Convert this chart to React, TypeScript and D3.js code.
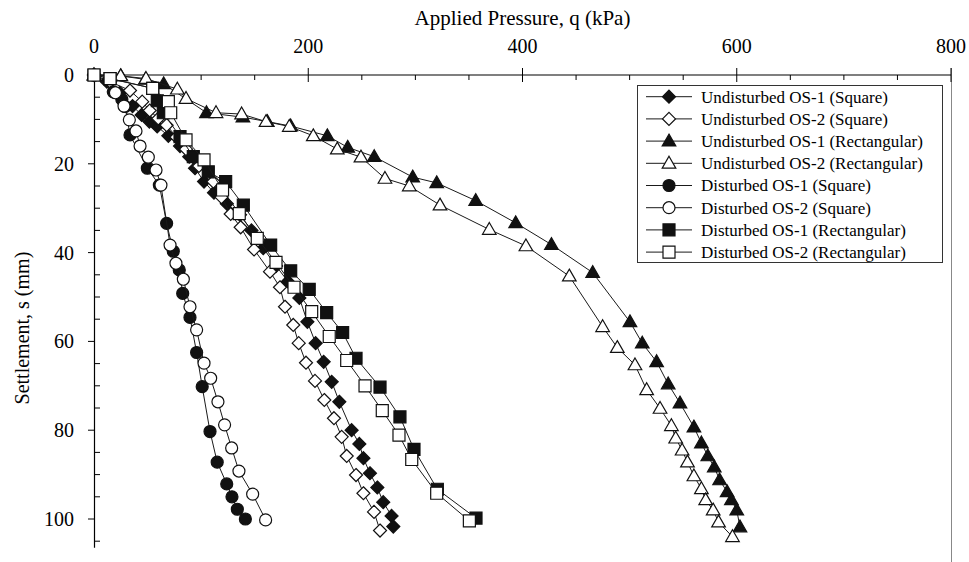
import React, { useEffect, useRef } from 'react';
import * as d3 from 'd3';

const X_TICKS = [0, 200, 400, 600, 800];
const Y_TICKS = [0, 20, 40, 60, 80, 100];

const LABELS = [
  'Undisturbed OS-1 (Square)',
  'Undisturbed OS-2 (Square)',
  'Undisturbed OS-1 (Rectangular)',
  'Undisturbed OS-2 (Rectangular)',
  'Disturbed OS-1 (Square)',
  'Disturbed OS-2 (Square)',
  'Disturbed OS-1 (Rectangular)',
  'Disturbed OS-2 (Rectangular)',
];

// Undisturbed OS-1 (Square)
const qU1Sq = [0, 12, 24, 36, 44.5, 51.7, 59, 69.4, 80.3, 88.9, 94.3, 102.7, 112, 124, 136.3, 147, 158, 170, 181, 191.7, 199.2, 206.9, 214.4, 221.9, 229, 240.5, 247.7, 251.5, 257.6, 264.5, 270, 277.8, 279.4];
const sU1Sq = [0, 1.5, 4, 7, 9, 10.5, 11.6, 13.7, 16, 18.4, 21, 24, 26.5, 29, 31.5, 35, 39, 43, 46.5, 50.2, 55.6, 60.4, 64.6, 69.1, 73.6, 80, 83.1, 86.3, 89.7, 92.9, 96.2, 99.3, 101.7];

// Undisturbed OS-2 (Square)
const qU2Sq = [0, 15, 33.6, 45, 52, 60, 67.8, 77, 85.9, 98, 111.4, 119, 127.6, 136.9, 149.4, 164.3, 173.6, 178.3, 186, 191.1, 197.9, 206.3, 215, 224, 231.2, 235.9, 244.6, 251.5, 261.4, 267];
const sU2Sq = [0, 1.5, 3.5, 6, 8, 9.8, 11.3, 14, 16.7, 20.5, 24, 27.5, 31.3, 34.3, 39.3, 44.3, 47.8, 52.2, 56.3, 60.4, 64.8, 68.9, 73.2, 77.3, 81.5, 85.8, 90.1, 94.2, 98.4, 102.6];

// Undisturbed OS-1 (Rectangular)
const qU1Re = [0, 25, 48, 65, 105, 139, 161.8, 183.6, 217.8, 236.8, 261.6, 297.5, 319.9, 356.3, 393.6, 427, 465.5, 500.3, 511.8, 525.2, 536, 547, 560, 567, 573, 579, 584, 591, 595, 600, 603];
const sU1Re = [0, 0.2, 1, 2, 8.5, 9.5, 10.5, 11.5, 13.7, 16.3, 18.4, 23, 24.3, 28.3, 33.3, 38.2, 44.5, 55.6, 60.4, 64.6, 69.6, 73.9, 79.3, 82.9, 85.8, 88.3, 91.2, 93.9, 95.7, 98, 101.8];

// Undisturbed OS-2 (Rectangular)
const qU2Re = [0, 24.9, 48.5, 77.8, 85.9, 113.9, 137.8, 160.6, 182.3, 204.7, 227.1, 249.2, 271.6, 294.3, 323, 369, 403.2, 443.7, 474.8, 488.5, 505, 515.9, 528.4, 539, 543, 549, 554, 560, 567, 571, 578, 583, 596];
const sU2Re = [0, 0.2, 0.8, 3.2, 5.3, 8.5, 8.8, 10.5, 11.6, 13.7, 16.7, 18.5, 23.3, 25, 29.3, 34.8, 38.5, 45.3, 56.7, 61.4, 65.3, 70.9, 75.1, 79, 81.8, 84.5, 87.2, 90.3, 93.2, 95.7, 98, 100.7, 104];

// Disturbed OS-1 (Square)
const qD1Sq = [0, 18, 26, 29, 33.6, 49.8, 61, 67.8, 74, 79.6, 82.8, 89.6, 95.8, 101, 108.3, 115, 123.9, 128.8, 133.8, 141.3];
const sD1Sq = [0, 3.8, 5.5, 7.1, 13.5, 21, 24.8, 33.4, 39.7, 43.9, 49.2, 54.6, 62.5, 70.2, 80.3, 87.2, 92.1, 95, 97.8, 100];

// Disturbed OS-2 (Square)
const qD2Sq = [0, 20, 28, 33, 39.2, 43, 50.7, 57.9, 62.5, 71, 76.5, 83.4, 89.6, 95.8, 102.7, 108.9, 115.7, 121.9, 128.5, 135.3, 148.1, 160.2];
const sD2Sq = [0, 4, 7, 10.1, 12.6, 16, 18.5, 21.4, 24.8, 38.3, 42.4, 46, 52.2, 57.4, 64.9, 68.3, 73.6, 78.8, 84, 89.2, 94.4, 100.2];

// Disturbed OS-1 (Rectangular)
const qD1Re = [0, 15, 54.8, 59.1, 64.7, 80.3, 92.7, 106.7, 122.9, 139.4, 164.9, 183.6, 200.9, 217.2, 232.1, 244.6, 267, 285.6, 298.7, 320.5, 356.6];
const sD1Re = [0, 0.8, 3, 5.8, 8.5, 13.9, 18.4, 21.8, 24, 29.3, 38.3, 44.1, 48.3, 53.5, 58, 63.8, 70.3, 77, 84.3, 93.3, 99.8];

// Disturbed OS-2 (Rectangular)
const qD2Re = [0, 15, 54.8, 69.4, 71.6, 85.9, 102.7, 120, 135.6, 152.4, 169.9, 186.7, 203.2, 219.6, 235.9, 253, 269.1, 284.7, 296.6, 319.9, 350.4];
const sD2Re = [0, 0.8, 3, 6, 8.5, 14.6, 19.1, 25.9, 31.2, 36.8, 42.2, 47.8, 53.3, 58.9, 64.3, 70, 75.6, 81.1, 86.6, 94.2, 100.4];

type Shape = 'diamond' | 'triangle' | 'circle' | 'square';

const markerPath = (shape: Shape) => {
  if (shape === 'circle') return 'M6,0A6,6 0 1,1 -6,0A6,6 0 1,1 6,0Z';
  if (shape === 'square') return 'M-6,-6H6V6H-6Z';
  if (shape === 'diamond') return 'M0,-6.5L6.5,0L0,6.5L-6.5,0Z';
  return 'M0,-7L6.8,4.8L-6.8,4.8Z';
};

const App = () => {
  const svgRef = useRef<SVGSVGElement>(null);

  useEffect(() => {
    const series = [
      { q: qU1Sq, s: sU1Sq, shape: 'diamond', filled: true },
      { q: qU2Sq, s: sU2Sq, shape: 'diamond', filled: false },
      { q: qU1Re, s: sU1Re, shape: 'triangle', filled: true },
      { q: qU2Re, s: sU2Re, shape: 'triangle', filled: false },
      { q: qD1Sq, s: sD1Sq, shape: 'circle', filled: true },
      { q: qD2Sq, s: sD2Sq, shape: 'circle', filled: false },
      { q: qD1Re, s: sD1Re, shape: 'square', filled: true },
      { q: qD2Re, s: sD2Re, shape: 'square', filled: false },
    ].map((d, i) => ({ ...d, label: LABELS[i] }));

    const svg = d3.select(svgRef.current);
    svg.selectAll('*').remove();

    const x = d3.scaleLinear().domain([0, 800]).range([94, 951]);
    const y = d3.scaleLinear().domain([0, 100]).range([75, 519]);
    const font = '"Liberation Serif", "Times New Roman", serif';

    // right frame edge
    svg.append('line')
      .attr('x1', 951.5).attr('x2', 951.5).attr('y1', 68).attr('y2', 562)
      .attr('stroke', '#888').attr('stroke-width', 1);

    // x axis (top)
    svg.append('line')
      .attr('x1', x(0)).attr('x2', x(800)).attr('y1', 75).attr('y2', 75)
      .attr('stroke', '#000').attr('stroke-width', 1.2);
    d3.range(0, 801, 50).forEach(v => {
      const major = v % 200 === 0;
      svg.append('line')
        .attr('x1', x(v)).attr('x2', x(v))
        .attr('y1', major ? 68 : 75).attr('y2', major ? 82 : 80)
        .attr('stroke', '#000').attr('stroke-width', 1);
    });
    svg.selectAll('.xt').data(X_TICKS).enter().append('text')
      .attr('x', d => x(d)).attr('y', 53)
      .attr('text-anchor', 'middle')
      .attr('font-family', font).attr('font-size', 20)
      .text(d => d);
    svg.append('text')
      .attr('x', (x(0) + x(800)) / 2).attr('y', 25)
      .attr('text-anchor', 'middle')
      .attr('font-family', font).attr('font-size', 21)
      .text('Applied Pressure, q (kPa)');

    // y axis
    svg.append('line')
      .attr('x1', 94.5).attr('x2', 94.5).attr('y1', 75).attr('y2', y(106.5))
      .attr('stroke', '#000').attr('stroke-width', 1.2);
    d3.range(0, 106, 5).forEach(v => {
      const major = v % 20 === 0;
      svg.append('line')
        .attr('x1', major ? 88 : 94.5).attr('x2', major ? 94.5 : 100)
        .attr('y1', y(v)).attr('y2', y(v))
        .attr('stroke', '#000').attr('stroke-width', 1);
    });
    svg.selectAll('.yt').data(Y_TICKS).enter().append('text')
      .attr('x', 74).attr('y', d => y(d)).attr('dy', '0.35em')
      .attr('text-anchor', 'end')
      .attr('font-family', font).attr('font-size', 20)
      .text(d => d);
    svg.append('text')
      .attr('transform', `translate(22,${y(57)}) rotate(-90)`)
      .attr('text-anchor', 'middle').attr('dy', '0.35em')
      .attr('font-family', font).attr('font-size', 20)
      .text('Settlement, s (mm)');

    const line = d3.line<number[]>()
      .x(d => d[0])
      .y(d => d[1]);

    series.forEach(sr => {
      const pts = sr.q.map((q, i) => [x(q), y(sr.s[i])]);
      svg.append('path')
        .attr('d', line(pts))
        .attr('fill', 'none').attr('stroke', '#1a1a1a').attr('stroke-width', 1);
      svg.append('g').selectAll('path').data(pts).enter().append('path')
        .attr('transform', d => `translate(${d[0]},${d[1]})`)
        .attr('d', markerPath(sr.shape as Shape))
        .attr('fill', sr.filled ? '#111' : '#fff')
        .attr('stroke', '#111').attr('stroke-width', 1.2);
    });

    // legend
    const lg = svg.append('g');
    lg.append('rect')
      .attr('x', 637.5).attr('y', 85.5).attr('width', 305).attr('height', 177)
      .attr('fill', '#fff').attr('stroke', '#333').attr('stroke-width', 1);
    series.forEach((sr, i) => {
      const cy = 96.7 + i * 22.2;
      lg.append('line')
        .attr('x1', 646).attr('x2', 692).attr('y1', cy).attr('y2', cy)
        .attr('stroke', '#1a1a1a').attr('stroke-width', 1);
      lg.append('path')
        .attr('transform', `translate(669,${cy})`)
        .attr('d', markerPath(sr.shape as Shape))
        .attr('fill', sr.filled ? '#111' : '#fff')
        .attr('stroke', '#111').attr('stroke-width', 1.2);
      lg.append('text')
        .attr('x', 701).attr('y', cy).attr('dy', '0.35em')
        .attr('font-family', font).attr('font-size', 17)
        .text(sr.label);
    });
  }, []);

  return (
    <svg ref={svgRef} width={969} height={562}
      style={{ position: 'absolute', left: 0, top: 0, background: '#fff' }} />
  );
};

export default App;
